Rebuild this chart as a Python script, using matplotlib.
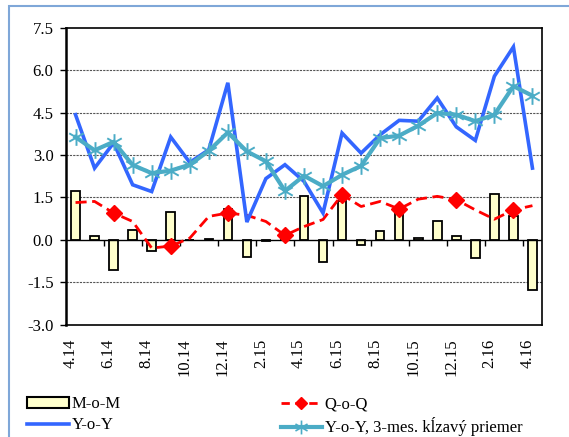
import matplotlib
matplotlib.use("Agg")
import matplotlib.pyplot as plt
import matplotlib.patches as mpatches
import matplotlib.transforms as mtransforms
from matplotlib.path import Path
from matplotlib.lines import Line2D
import numpy as np

months = ["4.14", "5.14", "6.14", "7.14", "8.14", "9.14", "10.14", "11.14", "12.14",
          "1.15", "2.15", "3.15", "4.15", "5.15", "6.15", "7.15", "8.15", "9.15",
          "10.15", "11.15", "12.15", "1.16", "2.16", "3.16", "4.16"]
mom = [1.74, 0.14, -1.06, 0.35, -0.38, 1.00, -0.02, 0.03, 1.10, -0.59, -0.04, 0.02,
       1.55, -0.77, 1.38, -0.18, 0.33, 1.00, 0.06, 0.67, 0.14, -0.66, 1.63, 0.85, -1.77]
qoq = [1.32, 1.36, 0.95, 0.65, -0.29, -0.22, 0.06, 0.83, 0.95, 0.87, 0.65, 0.16,
       0.47, 0.72, 1.60, 1.18, 1.36, 1.09, 1.44, 1.54, 1.42, 1.06, 0.73, 1.06, 1.21]
yoy = [4.43, 2.54, 3.43, 1.95, 1.71, 3.64, 2.74, 3.19, 5.56, 0.63, 2.17, 2.66,
       2.07, 0.95, 3.78, 3.07, 3.72, 4.23, 4.20, 5.02, 4.00, 3.52, 5.79, 6.83, 2.54]
yoy_ma = [3.64, 3.17, 3.47, 2.65, 2.36, 2.45, 2.66, 3.15, 3.80, 3.13, 2.78, 1.73,
          2.27, 1.90, 2.30, 2.62, 3.60, 3.69, 4.04, 4.49, 4.43, 4.20, 4.43, 5.44, 5.10]
yticks = [-3.0, -1.5, 0.0, 1.5, 3.0, 4.5, 6.0, 7.5]

serif = ["Liberation Serif", "DejaVu Serif"]
plt.rcParams["font.family"] = serif

fig = plt.figure(figsize=(5.69, 4.37), dpi=100)
ax = fig.add_axes([0.116, 0.2572, 0.8365, 0.6788])

x = np.arange(len(months))

# gridlines
for yv in yticks[1:-1]:
    if yv != 0:
        ax.axhline(yv, color="#555555", lw=0.8, ls=(0, (2, 1)), zorder=0)

ax.bar(x, mom, width=0.45, color="#ffffcc", edgecolor="black", linewidth=1.3,
       zorder=2, label="M-o-M")
ax.axhline(0, color="black", lw=1.0, zorder=2.5)

ax.plot(x, qoq, color="#ff0000", lw=2.0, ls=(0, (4, 2)), marker="D",
        markersize=8, markevery=slice(2, None, 3), markerfacecolor="#ff0000",
        markeredgecolor="#ff0000", zorder=3, label="Q-o-Q")
ax.plot(x, yoy, color="#3366ff", lw=2.6, zorder=4, solid_joinstyle="miter",
        label="Y-o-Y")

star = Path([(0, -1), (0, 1), (-0.87, -0.5), (0.87, 0.5), (-0.87, 0.5), (0.87, -0.5)],
            [Path.MOVETO, Path.LINETO, Path.MOVETO, Path.LINETO, Path.MOVETO, Path.LINETO])
ax.plot(x, yoy_ma, color="#4bacc6", lw=3.0, marker=star, markersize=12,
        markeredgewidth=1.4, markeredgecolor="#4bacc6", markerfacecolor="none",
        zorder=5, label="Y-o-Y, 3-mes. kĺzavý priemer")

ax.set_xlim(-0.5, len(months) - 0.5)
ax.set_ylim(-3.0, 7.5)
ax.set_yticks(yticks)
ax.set_yticklabels([f"{v:.1f}" for v in yticks], fontsize=12)
ax.tick_params(axis="y", direction="out", length=4, width=1, pad=5)

ax.set_xticks(x[::2])
ax.set_xticklabels(months[::2], rotation=90, fontsize=12)
ax.tick_params(axis="x", length=0, pad=10)
offset = mtransforms.ScaledTranslation(-5 / 100, 0, fig.dpi_scale_trans)
for lab in ax.get_xticklabels():
    lab.set_transform(lab.get_transform() + offset)

for s in ["top", "right", "bottom"]:
    ax.spines[s].set_linewidth(1.2)
ax.spines["left"].set_linewidth(1.8)

# ticks on the zero line
zero_loc = (0 - (-3.0)) / (7.5 - (-3.0))
sec = ax.secondary_xaxis(zero_loc)
sec.set_xticks(np.arange(1.5, len(months) - 1, 2))
sec.set_xticklabels([])
sec.tick_params(direction="out", length=4, width=1)
sec.spines["bottom"].set_visible(False)

# legend
handles = [
    mpatches.Patch(facecolor="#ffffcc", edgecolor="black", linewidth=1.5),
    Line2D([], [], color="#3366ff", lw=2.6),
    Line2D([], [], color="#ff0000", lw=2.0, ls=(0, (3, 2)), marker="D", markersize=6),
    Line2D([], [], color="#4bacc6", lw=3.0, marker=star, markersize=10,
           markeredgewidth=1.2, markerfacecolor="none"),
]
labels = ["M-o-M", "Y-o-Y", "Q-o-Q", "Y-o-Y, 3-mes. kĺzavý priemer"]
fig.legend(handles, labels, ncol=2, loc="upper left",
           bbox_to_anchor=(0.048, 0.093), frameon=False, fontsize=12,
           handlelength=2.5, handleheight=0.6, handletextpad=0.15,
           columnspacing=9.6, labelspacing=0.3, borderaxespad=0, borderpad=0)

# outer chart border
fig.patches.append(mpatches.Rectangle((9 / 569, -0.1), 1.2, 1 - 6 / 437 + 0.1,
                                      transform=fig.transFigure, fill=False,
                                      edgecolor="#7fa7d8", lw=1.5))

fig.savefig("out.png", dpi=100)
